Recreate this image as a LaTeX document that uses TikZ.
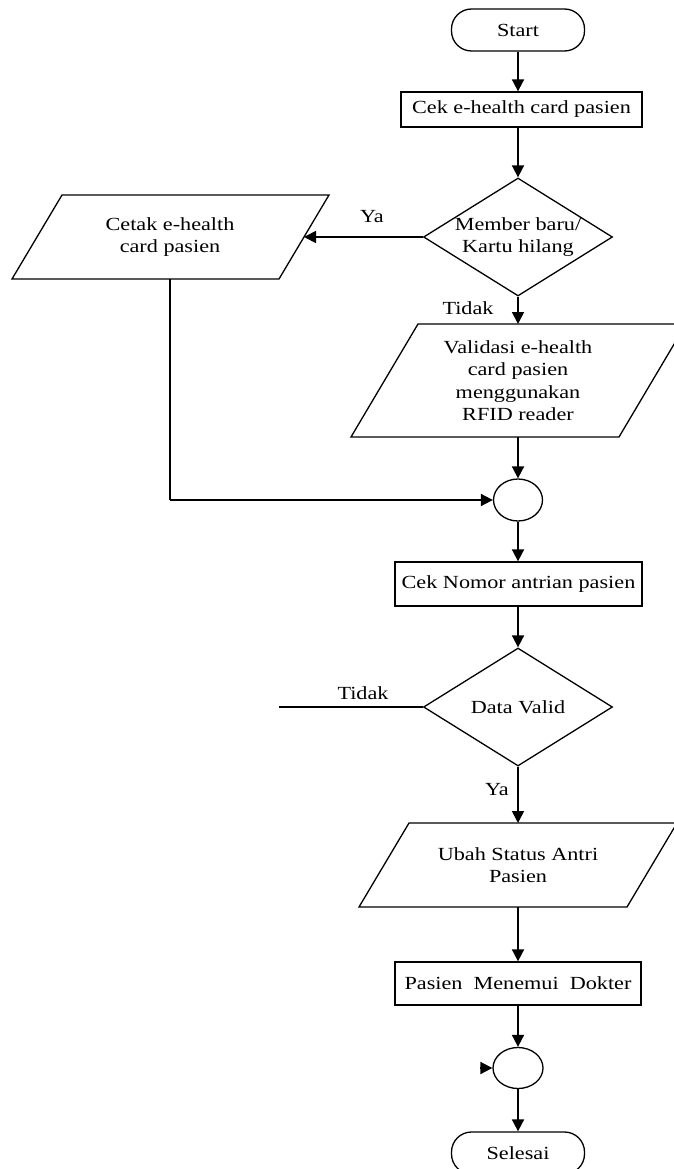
\documentclass[tikz,border=0pt]{standalone}
\usepackage{fontspec}
\setmainfont{Liberation Serif}[FakeStretch=1.2]
\usetikzlibrary{arrows.meta,shapes.geometric,calc}
\tikzset{
  base/.style={line width=1.3pt, draw=black},
  arr/.style={line width=1.8pt, -{Triangle[length=12pt,width=12pt]}},
  plain/.style={line width=1.4pt},
  procbox/.style={base, rectangle, inner sep=0pt, align=center},
  termbox/.style={base, rectangle, rounded corners=20pt, minimum width=133pt, minimum height=42pt, inner sep=0pt},
  decbox/.style={base, diamond, minimum width=189pt, minimum height=118pt, inner sep=0pt},
  conn/.style={base, ellipse, minimum width=49pt, minimum height=42pt, inner sep=0pt},
  txt/.style={align=center, inner sep=0pt},
  lbl/.style={inner sep=0pt}
}
\begin{document}
\begin{tikzpicture}[x=1pt,y=-1pt, font=\fontsize{18.5pt}{22.5pt}\selectfont]
\useasboundingbox (0,0) rectangle (673,1169);
% Start
\node[termbox] (start) at (518,30) {Start};
% Cek e-health
\node[procbox, minimum width=241pt, minimum height=35pt] (cek1) at (521.5,109.5) {Cek e-health card pasien};
% Decision 1
\node[decbox] (d1) at (518,237) {};
\node[txt] (d1t) at (d1.center) {Member baru/\\Kartu hilang};
% Cetak parallelogram
\node[txt] (cetak) at (170,237) {Cetak e-health\\card pasien};
\draw[base, shift={(cetak.center)}] (-108,-42) -- (159,-42) -- (109,42) -- (-158,42) -- cycle;
\coordinate (cetakE) at ($(cetak.center)+(134,0)$);
\coordinate (cetakS) at ($(cetak.center)+(0,42)$);
% Validasi parallelogram
\node[txt] (valid) at (518,380.5) {Validasi e-health\\card pasien\\menggunakan\\RFID reader};
\draw[base, shift={(valid.center)}] (-100,-56.5) -- (168,-56.5) -- (101,56.5) -- (-167,56.5) -- cycle;
\coordinate (validN) at ($(valid.center)+(0,-56.5)$);
\coordinate (validS) at ($(valid.center)+(0,56.5)$);
% Connector circle 1
\node[conn] (c1) at (518,500) {};
% Cek Nomor
\node[procbox, minimum width=247pt, minimum height=44pt] (cek2) at (518.5,584) {Cek Nomor antrian pasien};
% Decision 2
\node[decbox] (d2) at (518,707) {};
\node[txt] (d2t) at (d2.center) {Data Valid};
\coordinate (tidakEnd) at (279,707);
% Ubah parallelogram
\node[txt] (ubah) at (518,865) {Ubah Status Antri\\Pasien};
\draw[base, shift={(ubah.center)}] (-109,-42) -- (159,-42) -- (109,42) -- (-159,42) -- cycle;
\coordinate (ubahN) at ($(ubah.center)+(0,-42)$);
\coordinate (ubahS) at ($(ubah.center)+(0,42)$);
% Pasien box
\node[procbox, minimum width=246pt, minimum height=43pt] (pasien) at (518,983.5) {Pasien\hspace{0.3em} Menemui\hspace{0.3em} Dokter};
% Connector circle 2
\node[conn, minimum width=50pt, minimum height=41pt] (c2) at (518,1068) {};
\coordinate (c2in) at ($(c2.west)+(-12,0)$);
% Selesai
\node[termbox] (selesai) at (518,1153) {Selesai};

% connectors
\draw[arr] (start.south) -- (start.south |- cek1.north);
\draw[arr] (cek1.south -| d1.north) -- (d1.north);
\draw[arr] (d1.west) -- (cetakE);
\draw[arr] (d1.south) -- (d1.south |- validN);
\draw[arr] (validS) -- (validS |- c1.north);
\draw[plain] (cetakS) -- (cetakS |- c1.west);
\draw[arr] (cetakS |- c1.west) -- (c1.west);
\draw[arr] (c1.south) -- (c1.south |- cek2.north);
\draw[arr] (cek2.south -| d2.north) -- (d2.north);
\draw[plain] (d2.west) -- (d2.west -| tidakEnd);
\draw[arr] (d2.south) -- (d2.south |- ubahN);
\draw[arr] (ubahS) -- (ubahS |- pasien.north);
\draw[arr] (pasien.south) -- (pasien.south |- c2.north);
\draw[arr] (c2in) -- (c2.west);
\draw[arr] (c2.south) -- (c2.south |- selesai.north);

% labels
\node[lbl] (ya1) at (372,217) {Ya};
\node[lbl] (tidak1) at (468,308) {Tidak};
\node[lbl] (tidak2) at (363,693) {Tidak};
\node[lbl] (ya2) at (497,790) {Ya};
\end{tikzpicture}
\end{document}
